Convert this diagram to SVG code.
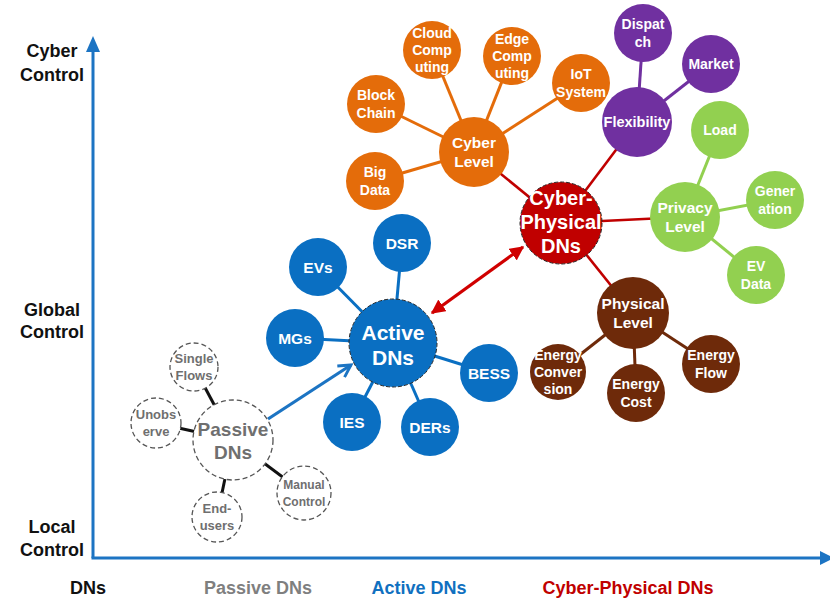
<svg xmlns="http://www.w3.org/2000/svg" width="830" height="602" viewBox="0 0 830 602">
<defs>
<style>
text{font-family:"Liberation Sans","Open Sans",Arial,sans-serif;font-weight:bold;text-anchor:middle}
.w{fill:#fff}
.ax{fill:#111;font-size:18px}
.c14{font-size:14px}
.c15{font-size:15.5px}
.lv{font-size:15.5px}
.or{fill:#e46c0a}
.pu{fill:#7030a0}
.gr{fill:#92d050}
.br{fill:#6e2a0a}
.bl{fill:#0a6fc2}
.cp{fill:#c00000;stroke:#2a2a2a;stroke-width:1;stroke-dasharray:4 2}
.ac{fill:#0a6fc2;stroke:#2a2a2a;stroke-width:1;stroke-dasharray:4 2}
.ps{fill:#fff;stroke:#555;stroke-width:1.3;stroke-dasharray:5 3}
.pt{fill:#6f6f6f}
</style>
<marker id="openArrow" viewBox="0 0 12 12" refX="10" refY="6" markerWidth="5" markerHeight="5" orient="auto" markerUnits="strokeWidth">
<path d="M1,1 L10,6 L1,11" fill="none" stroke="#1c74c3" stroke-width="2.2"/>
</marker>
<marker id="redHead" viewBox="0 0 10 10" refX="9" refY="5" markerWidth="4.5" markerHeight="4.5" orient="auto-start-reverse" markerUnits="strokeWidth">
<path d="M0,0 L10,5 L0,10 z" fill="#d00000"/>
</marker>
</defs>
<rect width="830" height="602" fill="#fff"/>

<g id="axes">
<line x1="93" y1="558" x2="93" y2="50" stroke="#1c74c3" stroke-width="3"/>
<polygon points="93,36 86,52 100,52" fill="#1c74c3"/>
<line x1="91.5" y1="558" x2="822" y2="558" stroke="#1c74c3" stroke-width="3"/>
<polygon points="834,558 820,551 820,565" fill="#1c74c3"/>
<text class="ax" x="52" y="57">Cyber</text>
<text class="ax" x="52" y="81">Control</text>
<text class="ax" x="52" y="316">Global</text>
<text class="ax" x="52" y="338">Control</text>
<text class="ax" x="52" y="533">Local</text>
<text class="ax" x="52" y="556">Control</text>
<text class="ax" x="88" y="594">DNs</text>
<text class="ax" x="258" y="594" style="fill:#7f7f7f">Passive DNs</text>
<text class="ax" x="419" y="594" style="fill:#1070c0">Active DNs</text>
<text class="ax" x="628" y="594" style="fill:#c00000">Cyber-Physical DNs</text>
</g>

<g id="connectors">
<g stroke="#c00000" stroke-width="2.6">
<line x1="561" y1="223" x2="474" y2="152"/>
<line x1="561" y1="223" x2="637" y2="122"/>
<line x1="561" y1="223" x2="685" y2="217"/>
<line x1="561" y1="223" x2="633" y2="313"/>
</g>
<g stroke="#e46c0a" stroke-width="3">
<line x1="474" y1="152" x2="375" y2="181"/>
<line x1="474" y1="152" x2="376" y2="104"/>
<line x1="474" y1="152" x2="432" y2="50"/>
<line x1="474" y1="152" x2="512" y2="56"/>
<line x1="474" y1="152" x2="581" y2="83"/>
</g>
<g stroke="#7030a0" stroke-width="3">
<line x1="637" y1="122" x2="643" y2="33"/>
<line x1="637" y1="122" x2="711" y2="64"/>
</g>
<g stroke="#92d050" stroke-width="3">
<line x1="685" y1="217" x2="720" y2="130"/>
<line x1="685" y1="217" x2="775" y2="200"/>
<line x1="685" y1="217" x2="756" y2="275"/>
</g>
<g stroke="#6e2a0a" stroke-width="3">
<line x1="633" y1="313" x2="558" y2="372"/>
<line x1="633" y1="313" x2="636" y2="393"/>
<line x1="633" y1="313" x2="711" y2="364"/>
</g>
<g stroke="#0a6fc2" stroke-width="3">
<line x1="393" y1="343" x2="402" y2="243"/>
<line x1="393" y1="343" x2="318" y2="267"/>
<line x1="393" y1="343" x2="295" y2="338"/>
<line x1="393" y1="343" x2="489" y2="373"/>
<line x1="393" y1="343" x2="352" y2="422"/>
<line x1="393" y1="343" x2="430" y2="427"/>
</g>
<g stroke="#111" stroke-width="3">
<line x1="233" y1="440" x2="194" y2="367"/>
<line x1="233" y1="440" x2="156" y2="423"/>
<line x1="233" y1="440" x2="217" y2="517"/>
<line x1="233" y1="440" x2="304" y2="493"/>
</g>
<line x1="268" y1="419" x2="351" y2="365" stroke="#1c74c3" stroke-width="3.2" marker-end="url(#openArrow)"/>
<line x1="432" y1="313" x2="523" y2="247" stroke="#d00000" stroke-width="3.2" marker-start="url(#redHead)" marker-end="url(#redHead)"/>
</g>

<g id="cyber-physical-dns"><circle class="cp" cx="561" cy="223" r="41"/>
<text class="w" style="font-size:20px" x="561" y="205">Cyber-</text>
<text class="w" style="font-size:20px" x="561" y="229">Physical</text>
<text class="w" style="font-size:20px" x="561" y="253">DNs</text></g>

<g id="cyber-level"><circle class="or" cx="474" cy="152" r="35"/>
<text class="w lv" x="474" y="148">Cyber</text><text class="w lv" x="474" y="167">Level</text></g>
<g id="big-data"><circle class="or" cx="375" cy="181" r="29"/>
<text class="w c14" x="375" y="177">Big</text><text class="w c14" x="375" y="195">Data</text></g>
<g id="block-chain"><circle class="or" cx="376" cy="104" r="29"/>
<text class="w c14" x="376" y="100">Block</text><text class="w c14" x="376" y="118">Chain</text></g>
<g id="cloud-computing"><circle class="or" cx="432" cy="50" r="29"/>
<text class="w c14" x="432" y="38">Cloud</text><text class="w c14" x="432" y="55">Comp</text><text class="w c14" x="432" y="72">uting</text></g>
<g id="edge-computing"><circle class="or" cx="512" cy="56" r="29"/>
<text class="w c14" x="512" y="44">Edge</text><text class="w c14" x="512" y="61">Comp</text><text class="w c14" x="512" y="78">uting</text></g>
<g id="iot-system"><circle class="or" cx="581" cy="83" r="29"/>
<text class="w c14" x="581" y="79">IoT</text><text class="w c14" x="581" y="97">System</text></g>

<g id="flexibility"><circle class="pu" cx="637" cy="122" r="35"/>
<text class="w" style="font-size:14.5px" x="637" y="127">Flexibility</text></g>
<g id="dispatch"><circle class="pu" cx="643" cy="33" r="29"/>
<text class="w c14" x="643" y="29">Dispat</text><text class="w c14" x="643" y="47">ch</text></g>
<g id="market"><circle class="pu" cx="711" cy="64" r="29"/>
<text class="w c14" x="711" y="69">Market</text></g>

<g id="privacy-level"><circle class="gr" cx="685" cy="217" r="35"/>
<text class="w lv" x="685" y="213">Privacy</text><text class="w lv" x="685" y="232">Level</text></g>
<g id="load"><circle class="gr" cx="720" cy="130" r="29"/>
<text class="w c14" x="720" y="135">Load</text></g>
<g id="generation"><circle class="gr" cx="775" cy="200" r="29"/>
<text class="w c14" x="775" y="196">Gener</text><text class="w c14" x="775" y="214">ation</text></g>
<g id="ev-data"><circle class="gr" cx="756" cy="275" r="29"/>
<text class="w c14" x="756" y="271">EV</text><text class="w c14" x="756" y="289">Data</text></g>

<g id="physical-level"><circle class="br" cx="633" cy="313" r="36"/>
<text class="w lv" x="633" y="309">Physical</text><text class="w lv" x="633" y="328">Level</text></g>
<g id="energy-conversion"><circle class="br" cx="558" cy="372" r="28"/>
<text class="w c14" x="558" y="360">Energy</text><text class="w c14" x="558" y="377">Conver</text><text class="w c14" x="558" y="394">sion</text></g>
<g id="energy-cost"><circle class="br" cx="636" cy="393" r="29"/>
<text class="w c14" x="636" y="389">Energy</text><text class="w c14" x="636" y="407">Cost</text></g>
<g id="energy-flow"><circle class="br" cx="711" cy="364" r="29"/>
<text class="w c14" x="711" y="360">Energy</text><text class="w c14" x="711" y="378">Flow</text></g>

<g id="active-dns"><circle class="ac" cx="393" cy="343" r="44"/>
<text class="w" style="font-size:21px" x="393" y="340">Active</text><text class="w" style="font-size:21px" x="393" y="365">DNs</text></g>
<g id="dsr"><circle class="bl" cx="402" cy="243" r="29"/><text class="w c15" x="402" y="249">DSR</text></g>
<g id="evs"><circle class="bl" cx="318" cy="267" r="29"/><text class="w c15" x="318" y="273">EVs</text></g>
<g id="mgs"><circle class="bl" cx="295" cy="338" r="29"/><text class="w c15" x="295" y="344">MGs</text></g>
<g id="bess"><circle class="bl" cx="489" cy="373" r="29"/><text class="w c15" x="489" y="379">BESS</text></g>
<g id="ies"><circle class="bl" cx="352" cy="422" r="29"/><text class="w c15" x="352" y="428">IES</text></g>
<g id="ders"><circle class="bl" cx="430" cy="427" r="29"/><text class="w c15" x="430" y="433">DERs</text></g>

<g id="passive-dns"><circle class="ps" cx="233" cy="440" r="40"/>
<text class="pt" style="font-size:19px" x="233" y="436">Passive</text><text class="pt" style="font-size:19px" x="233" y="459">DNs</text></g>
<g id="single-flows"><circle class="ps" cx="194" cy="367" r="24"/>
<text class="pt" style="font-size:13px" x="194" y="363">Single</text><text class="pt" style="font-size:13px" x="194" y="380">Flows</text></g>
<g id="unobserve"><circle class="ps" cx="156" cy="423" r="25"/>
<text class="pt" style="font-size:13px" x="156" y="419">Unobs</text><text class="pt" style="font-size:13px" x="156" y="436">erve</text></g>
<g id="end-users"><circle class="ps" cx="217" cy="517" r="25"/>
<text class="pt" style="font-size:13px" x="217" y="513">End-</text><text class="pt" style="font-size:13px" x="217" y="530">users</text></g>
<g id="manual-control"><circle class="ps" cx="304" cy="493" r="27"/>
<text class="pt" style="font-size:12px" x="304" y="489">Manual</text><text class="pt" style="font-size:12px" x="304" y="506">Control</text></g>
</svg>
